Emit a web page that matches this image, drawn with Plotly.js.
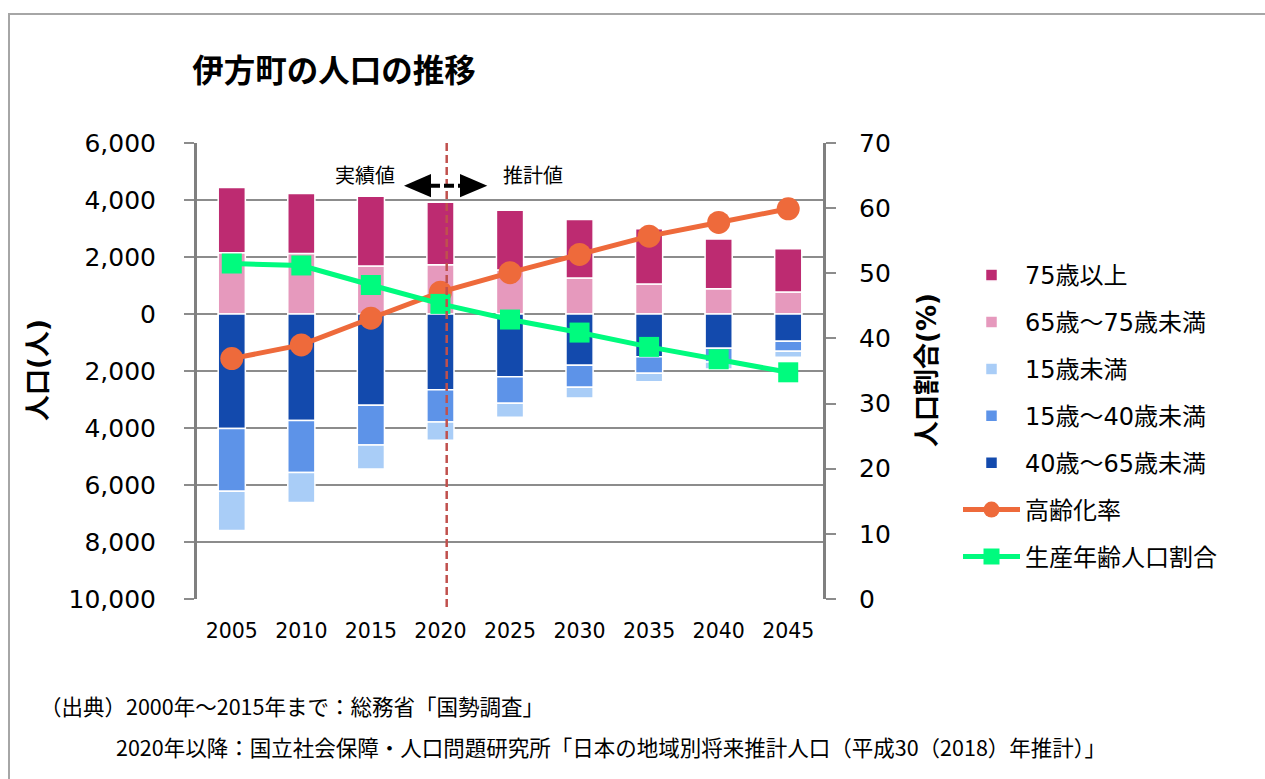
<!DOCTYPE html>
<html>
<head>
<meta charset="utf-8">
<script src="https://cdn.plot.ly/plotly-3.0.1.min.js"></script>
<style>
html,body{margin:0;padding:0;background:#fff;}
#chart{width:1265px;height:779px;}
</style>
</head>
<body>
<div id="chart"></div>
<script>
// ---- data ----
const years = ['2005', '2010', '2015', '2020', '2025', '2030', '2035', '2040', '2045'];
const over75 = [2290, 2100, 2450, 2200, 2100, 2055, 1940, 1750, 1520];
const age65to75 = [2150, 2125, 1680, 1725, 1540, 1260, 1050, 885, 770];
const under15 = [1380, 1050, 840, 640, 490, 375, 300, 250, 210];
const age15to40 = [2200, 1820, 1400, 1130, 930, 770, 580, 480, 350];
const age40to65 = [4020, 3740, 3200, 2660, 2200, 1800, 1500, 1200, 960];
const agingRate = [36.9, 39.0, 43.1, 47.1, 50.1, 52.9, 55.7, 57.8, 59.9];
const workingRate = [51.5, 51.2, 48.2, 45.3, 42.9, 40.9, 38.7, 36.8, 34.8];
const leftTickVals = [-10000, -8000, -6000, -4000, -2000, 0, 2000, 4000, 6000];
const leftTickText = ['10,000', '8,000', '6,000', '4,000', '2,000', '0', '2,000', '4,000', '6,000'];
const rightTickVals = [0, 10, 20, 30, 40, 50, 60, 70];

const FONT = 'DejaVu Sans, "Noto Sans CJK JP", sans-serif';
const JP = '"Noto Sans CJK JP", "DejaVu Sans", sans-serif';
const GRID = '#8c8c8c';

function bar(name, vals, color, rank, neg) {
  return {
    type: 'bar', name: name, x: years,
    y: neg ? vals.map(v => -v) : vals,
    marker: {color: color, line: {color: '#ffffff', width: 1.5}},
    legendrank: rank, legendgroup: 'g' + rank,
    hoverinfo: 'skip'
  };
}

const traces = [
  bar('65歳～75歳未満', age65to75, '#e699bd', 2, false),
  bar('75歳以上', over75, '#bd2b71', 1, false),
  bar('40歳～65歳未満', age40to65, '#134aad', 5, true),
  bar('15歳～40歳未満', age15to40, '#5d93e8', 4, true),
  bar('15歳未満', under15, '#a9cdf7', 3, true),
  {
    type: 'scatter', mode: 'lines+markers', name: '高齢化率', x: years, y: agingRate,
    yaxis: 'y2', line: {color: '#ee6a3b', width: 5},
    marker: {symbol: 'circle', size: 23, color: '#ee6a3b'},
    legendrank: 6, legendgroup: 'g6', hoverinfo: 'skip'
  },
  {
    type: 'scatter', mode: 'lines+markers', name: '生産年齢人口割合', x: years, y: workingRate,
    yaxis: 'y2', line: {color: '#00fb7e', width: 5},
    marker: {symbol: 'square', size: 20, color: '#00fb7e'},
    legendrank: 7, legendgroup: 'g7', hoverinfo: 'skip'
  }
];

// pixel helpers for decorations (plot area: x 197..823, y 143..599)
const PL = 197, PW = 626, PB = 599, PH = 456;
const px = v => (v - PL) / PW;
const py = v => (PB - v) / PH;

const layout = {
  width: 1265, height: 779,
  margin: {l: 197, r: 442, t: 143, b: 180},
  paper_bgcolor: '#ffffff', plot_bgcolor: '#ffffff',
  font: {family: FONT, color: '#000000'},
  barmode: 'relative',
  bargap: 0.61,
  showlegend: true,
  title: {
    text: '<b>伊方町の人口の推移</b>',
    font: {family: JP, size: 31.5, color: '#000000'},
    x: 334 / 1265, xanchor: 'center', xref: 'container',
    y: 1 - 71 / 779, yanchor: 'middle', yref: 'container'
  },
  xaxis: {
    type: 'category', range: [-0.5, 8.5], autorange: false,
    showgrid: false, zeroline: false, showline: false,
    ticks: '', tickfont: {size: 20.5, family: FONT, color: '#000'},
    ticklabelstandoff: 17
  },
  yaxis: {
    range: [-10000, 6000],
    tickvals: leftTickVals, ticktext: leftTickText,
    showgrid: true, gridcolor: GRID, gridwidth: 2,
    zeroline: false,
    showline: true, linecolor: '#808080', linewidth: 3,
    ticks: 'outside', ticklen: 10, tickwidth: 2, tickcolor: GRID,
    tickfont: {size: 25, family: FONT, color: '#000'},
    ticklabelstandoff: 23
  },
  yaxis2: {
    overlaying: 'y', side: 'right',
    range: [0, 70], tickvals: rightTickVals,
    showgrid: false, zeroline: false,
    showline: true, linecolor: '#808080', linewidth: 3,
    ticks: 'outside', ticklen: 10, tickwidth: 2, tickcolor: GRID,
    tickfont: {size: 25, family: FONT, color: '#000'},
    ticklabelstandoff: 18
  },
  legend: {
    x: px(958), xanchor: 'left',
    y: py(253), yanchor: 'top',
    traceorder: 'grouped',
    tracegroupgap: 12.7,
    itemwidth: 57,
    font: {size: 24, family: FONT, color: '#000'},
    bgcolor: 'rgba(0,0,0,0)'
  },
  shapes: [
    // outer frame
    {type: 'rect', xref: 'paper', yref: 'paper', x0: px(9), x1: px(1300), y0: py(820), y1: py(14),
     line: {color: '#a6a6a6', width: 2}, fillcolor: 'rgba(0,0,0,0)', layer: 'below'},
    // boundary between actual and estimated values
    {type: 'line', xref: 'x', yref: 'paper', x0: 3.09, x1: 3.09, y0: py(607), y1: 1,
     line: {color: '#c0504d', width: 2.5, dash: '8px,4px'}},
    // double arrow
    {type: 'line', xref: 'paper', yref: 'paper', x0: px(430), x1: px(461), y0: py(185.7), y1: py(185.7),
     line: {color: '#000000', width: 4, dash: '10px,4px'}},
    {type: 'path', xref: 'paper', yref: 'paper',
     path: `M ${px(404)} ${py(185.7)} L ${px(431)} ${py(174)} L ${px(431)} ${py(197.3)} Z`,
     fillcolor: '#000000', line: {width: 0}},
    {type: 'path', xref: 'paper', yref: 'paper',
     path: `M ${px(487.3)} ${py(185.7)} L ${px(460)} ${py(174)} L ${px(460)} ${py(197.3)} Z`,
     fillcolor: '#000000', line: {width: 0}}
  ],
  annotations: [
    {text: '実績値', xref: 'paper', yref: 'paper', x: px(365), y: py(174), showarrow: false,
     xanchor: 'center', yanchor: 'middle', font: {family: JP, size: 20, color: '#000'}},
    {text: '推計値', xref: 'paper', yref: 'paper', x: px(533), y: py(174), showarrow: false,
     xanchor: 'center', yanchor: 'middle', font: {family: JP, size: 20, color: '#000'}},
    {text: '<b>人口(人)</b>', xref: 'paper', yref: 'paper', x: px(38), y: py(370), showarrow: false,
     textangle: -90, xanchor: 'center', yanchor: 'middle', font: {family: FONT, size: 26, color: '#000'}},
    {text: '<b>人口割合(%)</b>', xref: 'paper', yref: 'paper', x: px(927), y: py(370), showarrow: false,
     textangle: -90, xanchor: 'center', yanchor: 'middle', font: {family: FONT, size: 26, color: '#000'}},
    {text: '（出典）2000年～2015年まで：総務省「国勢調査」', xref: 'paper', yref: 'paper',
     x: px(38), y: py(705), showarrow: false, xanchor: 'left', yanchor: 'middle',
     font: {family: JP, size: 21.5, color: '#000'}},
    {text: '2020年以降：国立社会保障・人口問題研究所「日本の地域別将来推計人口（平成30（2018）年推計）」', xref: 'paper', yref: 'paper',
     x: px(114), y: py(746.7), showarrow: false, xanchor: 'left', yanchor: 'middle',
     font: {family: JP, size: 21.5, color: '#000'}}
  ]
};

Plotly.newPlot('chart', traces, layout, {displayModeBar: false, staticPlot: true});
</script>
</body>
</html>
